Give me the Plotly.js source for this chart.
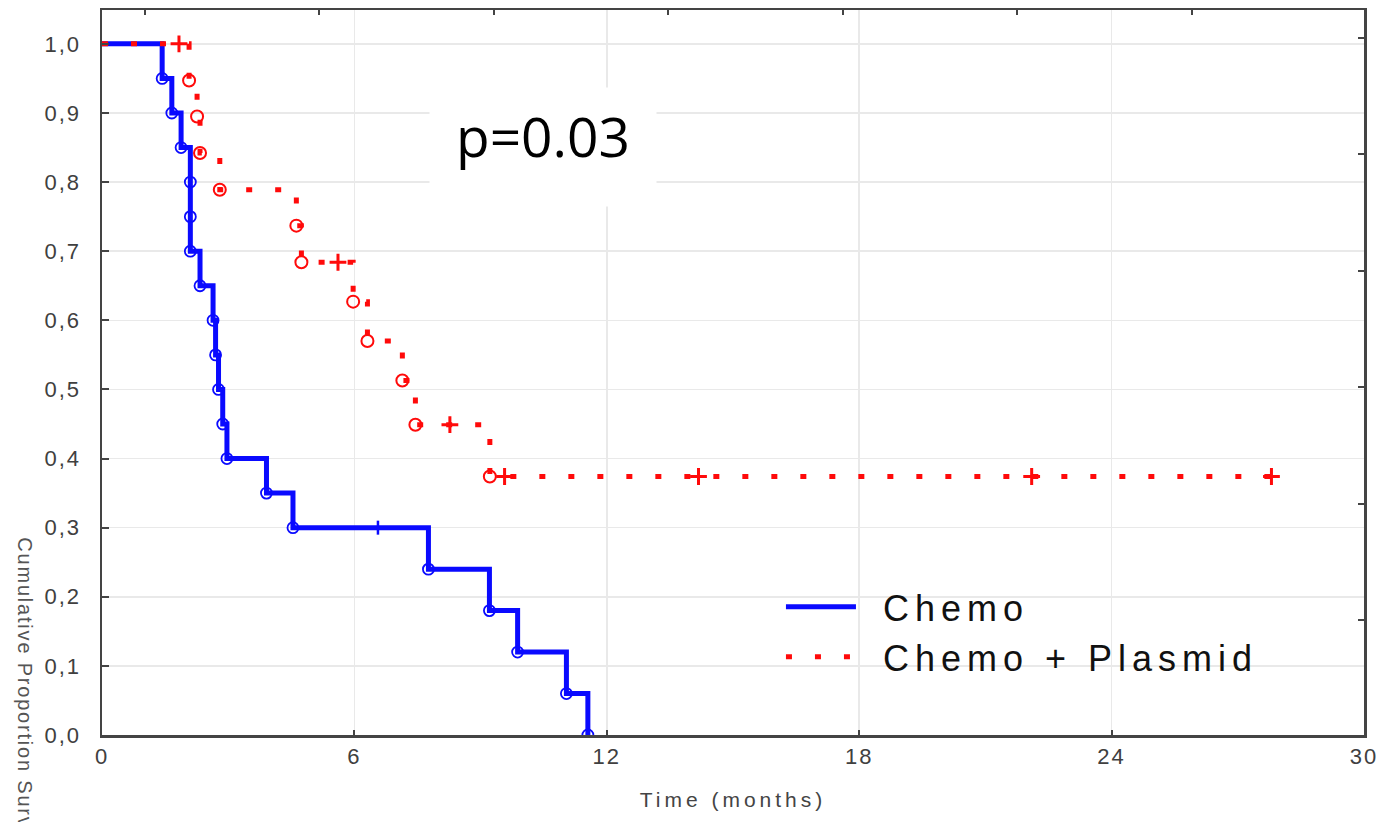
<!DOCTYPE html>
<html>
<head>
<meta charset="utf-8">
<script src="https://cdn.plot.ly/plotly-3.0.1.min.js"></script>
<style>
  html, body { margin: 0; padding: 0; background: #ffffff; }
  #chart { width: 1378px; height: 822px; }
  .legendtext { letter-spacing: 6px; transform: translateX(22px); }
  .legend .scrollbox { clip-path: none !important; }
  .xtick text, .ytick text { letter-spacing: 2px; }
  .g-xtitle text { letter-spacing: 4px; }
  .annotation[data-index="2"] text { letter-spacing: 1.8px; }
</style>
</head>
<body>
<div id="chart"></div>
<script>
// ---- Data (months, cumulative proportion surviving) ----
// Chemo: event times (drops) and survival after each drop
const chemoEventTime = [0, 1.43, 1.66, 1.88, 2.10, 2.10, 2.10, 2.33, 2.64, 2.70, 2.77, 2.87, 2.97, 3.91, 4.54, 7.76, 9.21, 9.88, 11.04, 11.55];
const chemoEventSurv = [1.0, 0.95, 0.90, 0.85, 0.80, 0.75, 0.70, 0.65, 0.60, 0.55, 0.50, 0.45, 0.40, 0.35, 0.30, 0.24, 0.18, 0.12, 0.06, 0.0];
const chemoCensorTime = [6.56];
const chemoCensorSurv = [0.30];

// Chemo + Plasmid
const plasEventTime = [0, 2.07, 2.26, 2.33, 2.80, 4.62, 4.74, 5.97, 6.31, 7.14, 7.45, 9.22];
const plasEventSurv = [1.0, 0.947, 0.895, 0.842, 0.789, 0.737, 0.684, 0.627, 0.570, 0.513, 0.449, 0.374];
const plasCensorTime = [1.83, 5.61, 8.27, 9.57, 14.18, 22.1, 27.8];
const plasCensorSurv = [1.0, 0.684, 0.449, 0.374, 0.374, 0.374, 0.374];

const xTickVals = [0, 6, 12, 18, 24, 30];
const yTickVals = [0, 0.1, 0.2, 0.3, 0.4, 0.5, 0.6, 0.7, 0.8, 0.9, 1.0];
const seriesNames = ['Chemo', 'Chemo + Plasmid'];
const pValueText = 'p=0.03';
const xTitle = 'Time (months)';
const yTitle = 'Cumulative Proportion Surviving';

// merge events + censors into one step path (sorted by time)
function stepPath(et, es, ct, cs) {
  const pts = [];
  et.forEach((t, i) => pts.push([t, es[i], 0]));
  ct.forEach((t, i) => pts.push([t, cs[i], 1]));
  pts.sort((a, b) => a[0] - b[0] || a[2] - b[2]);
  return { x: pts.map(p => p[0]), y: pts.map(p => p[1]) };
}

const blue = '#0a0aff';
const red = '#ff0a0a';

const chemoPath = stepPath(chemoEventTime, chemoEventSurv, chemoCensorTime, chemoCensorSurv);
const plasPath = stepPath(plasEventTime, plasEventSurv, plasCensorTime, plasCensorSurv);

const traces = [
  { x: chemoPath.x, y: chemoPath.y, type: 'scatter', mode: 'lines', name: seriesNames[0],
    line: { color: blue, width: 5, shape: 'hv' }, showlegend: true },
  { x: chemoEventTime.slice(1), y: chemoEventSurv.slice(1), type: 'scatter', mode: 'markers',
    marker: { symbol: 'circle-open', size: 11, color: blue, line: { width: 1.8, color: blue } }, showlegend: false },
  { x: chemoCensorTime, y: chemoCensorSurv, type: 'scatter', mode: 'markers',
    marker: { symbol: 'line-ns-open', size: 10, color: blue, line: { width: 2.5, color: blue } }, showlegend: false },
  { x: plasPath.x, y: plasPath.y, type: 'scatter', mode: 'lines', name: seriesNames[1],
    line: { color: red, width: 5, shape: 'hv', dash: '6px,23px' }, showlegend: true },
  { x: plasEventTime.slice(1), y: plasEventSurv.slice(1), type: 'scatter', mode: 'markers',
    marker: { symbol: 'circle-open', size: 12, color: red, line: { width: 2, color: red } }, showlegend: false },
  { x: plasCensorTime, y: plasCensorSurv, type: 'scatter', mode: 'markers',
    marker: { symbol: 'cross-thin-open', size: 12, color: red, line: { width: 3, color: red } }, showlegend: false }
];

const axisFont = { family: 'Liberation Sans, Arial, sans-serif', size: 22, color: '#404040' };

const layout = {
  width: 1378, height: 822,
  margin: { l: 102, r: 14, t: 10, b: 87 },
  paper_bgcolor: '#ffffff', plot_bgcolor: '#ffffff',
  separators: ',.',
  showlegend: true,
  font: { family: 'Liberation Sans, Arial, sans-serif', color: '#333' },
  xaxis: {
    range: [0, 30], tickvals: xTickVals, ticktext: xTickVals.map(String),
    showgrid: true, gridcolor: '#e9e9e9', gridwidth: 1.5, zeroline: false,
    showline: true, mirror: true, linecolor: '#444444', linewidth: 2.5,
    ticks: 'inside', ticklen: 5, tickcolor: '#444444', tickwidth: 2,
    tickfont: axisFont, ticklabeloverflow: 'allow',
    title: { text: xTitle, font: { family: 'Liberation Sans, Arial, sans-serif', size: 21, color: '#444444' }, standoff: 25 },
    automargin: false
  },
  yaxis: {
    range: [0, 1.049], tickvals: yTickVals, tickformat: '.1f',
    showgrid: true, gridcolor: '#e9e9e9', gridwidth: 1.5, zeroline: false,
    showline: true, mirror: true, linecolor: '#444444', linewidth: 2.5,
    ticks: 'inside', ticklen: 7, tickcolor: '#444444', tickwidth: 2,
    tickfont: axisFont, ticklabelstandoff: 14, ticklabeloverflow: 'allow',
    automargin: false
  },
  xaxis2: {
    overlaying: 'x', side: 'top', anchor: 'y', range: [0, 30],
    tick0: 1.022, dtick: 4.148, ticks: 'inside', ticklen: 5, tickwidth: 2, tickcolor: '#444444',
    showticklabels: false, showgrid: false, zeroline: false, showline: false
  },
  yaxis2: {
    overlaying: 'y', side: 'right', anchor: 'x', range: [0, 1.049],
    tick0: 1.0087, dtick: 0.1686, ticks: 'inside', ticklen: 6, tickwidth: 2, tickcolor: '#444444',
    showticklabels: false, showgrid: false, zeroline: false, showline: false
  },
  legend: {
    x: 0.538, y: 0.218, xanchor: 'left', yanchor: 'top',
    bgcolor: 'rgba(0,0,0,0)', borderwidth: 0,
    font: { family: 'Liberation Sans, Arial, sans-serif', size: 36, color: '#111111' },
    itemwidth: 70, tracegroupgap: 0
  },
  annotations: [
    { x: 10.48, y: 0.851, xref: 'x', yref: 'y', text: ' ', showarrow: false,
      font: { size: 10, color: '#ffffff' },
      bgcolor: '#ffffff', width: 226, height: 118, borderpad: 0 },
    { x: 10.48, y: 0.851, xref: 'x', yref: 'y', text: pValueText, showarrow: false, yshift: 11,
      font: { family: 'Open Sans, sans-serif', size: 55, color: '#000000' } },
    { x: -0.061, y: 0.037, xref: 'paper', yref: 'paper', xanchor: 'center', yanchor: 'middle',
      text: yTitle, showarrow: false, textangle: 90,
      font: { family: 'Liberation Sans, Arial, sans-serif', size: 20, color: '#555555' } }
  ]
};

const dummyAxisTrace = { x: [], y: [], xaxis: 'x2', yaxis: 'y2', type: 'scatter', mode: 'markers', showlegend: false, hoverinfo: 'skip' };

Plotly.newPlot('chart', traces.concat([dummyAxisTrace]), layout, { displayModeBar: false, staticPlot: true });
</script>
</body>
</html>
